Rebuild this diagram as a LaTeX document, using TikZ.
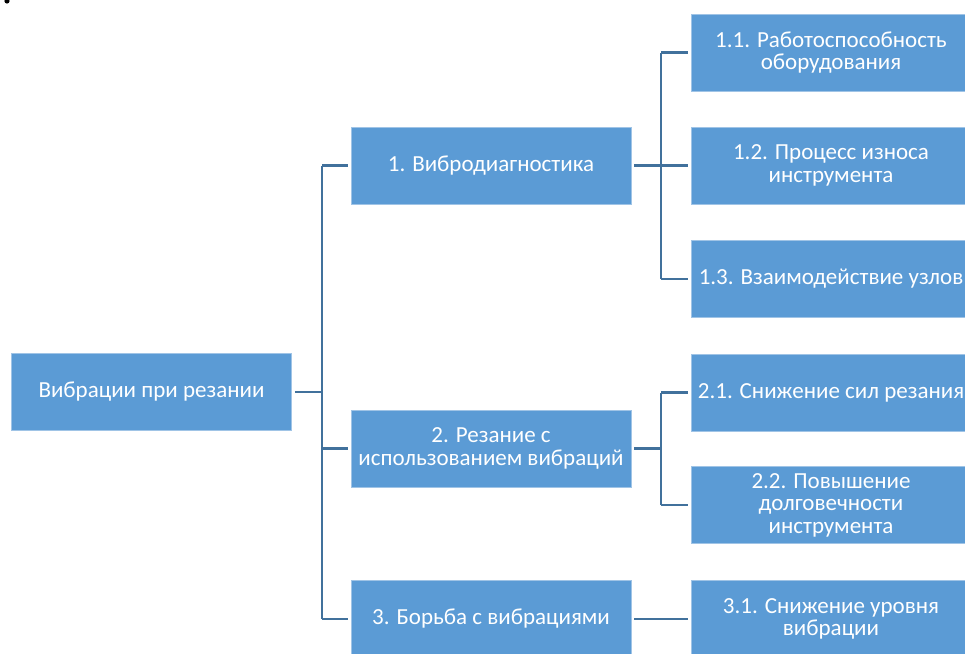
\documentclass[tikz,border=0pt]{standalone}
\usepackage{fontspec}
\setmainfont{Carlito}
\definecolor{boxfill}{RGB}{91,155,213}
\definecolor{boxedge}{RGB}{160,196,230}
\definecolor{linecol}{RGB}{65,113,156}
\begin{document}
\begin{tikzpicture}[x=1pt,y=1pt,
  box/.style={rectangle, fill=boxfill, draw=boxedge, line width=0.8pt,
    minimum width=280pt, minimum height=77pt, inner sep=0pt,
    text=white, align=center,
    font=\fontsize{23}{22.5}\selectfont},
  conn/.style={draw=linecol, line width=2.4pt},
  gapin/.style={shorten >=3pt},
  gapout/.style={shorten <=3pt}]
\useasboundingbox (0,0) rectangle (965,-653);
\fill[black] (7,-1) circle (2.6);
% nodes
\node[box] (root) at (151.5,-392) {Вибрации при резании};
\node[box] (a1) at (491,-165.5) {1. Вибродиагностика};
\node[box] (a2) at (491,-448.5) {2. Резание с\\использованием вибраций};
\node[box] (a3) at (491,-619) {3. Борьба с вибрациями};
\node[box] (b11) at (831,-52.5) {1.1. Работоспособность\\оборудования};
\node[box] (b12) at (831,-165.5) {1.2. Процесс износа\\инструмента};
\node[box] (b13) at (831,-279) {1.3. Взаимодействие узлов};
\node[box] (b21) at (831,-392.5) {2.1. Снижение сил резания};
\node[box] (b22) at (831,-505) {2.2. Повышение\\долговечности\\инструмента};
\node[box] (b31) at (831,-619) {3.1. Снижение уровня\\вибрации};
% junction columns
\coordinate (j0) at (322,0);
\coordinate (j1) at (661,0);
% root to level 1
\draw[conn,gapout] (root.east) -- (j0 |- root.east);
\draw[conn] (j0 |- a1.west) -- (j0 |- a3.west);
\draw[conn,gapin] (j0 |- a1.west) -- (a1.west);
\draw[conn,gapin] (j0 |- a2.west) -- (a2.west);
\draw[conn,gapin] (j0 |- a3.west) -- (a3.west);
% level 1 -> 1.x
\draw[conn,gapout] (a1.east) -- (j1 |- a1.east);
\draw[conn] (j1 |- b11.west) -- (j1 |- b13.west);
\draw[conn,gapin] (j1 |- b11.west) -- (b11.west);
\draw[conn,gapin] (j1 |- b12.west) -- (b12.west);
\draw[conn,gapin] (j1 |- b13.west) -- (b13.west);
% level 2 -> 2.x
\draw[conn,gapout] (a2.east) -- (j1 |- a2.east);
\draw[conn] (j1 |- b21.west) -- (j1 |- b22.west);
\draw[conn,gapin] (j1 |- b21.west) -- (b21.west);
\draw[conn,gapin] (j1 |- b22.west) -- (b22.west);
% level 3 -> 3.1
\draw[conn,gapout,gapin] (a3.east) -- (b31.west);
\end{tikzpicture}
\end{document}
